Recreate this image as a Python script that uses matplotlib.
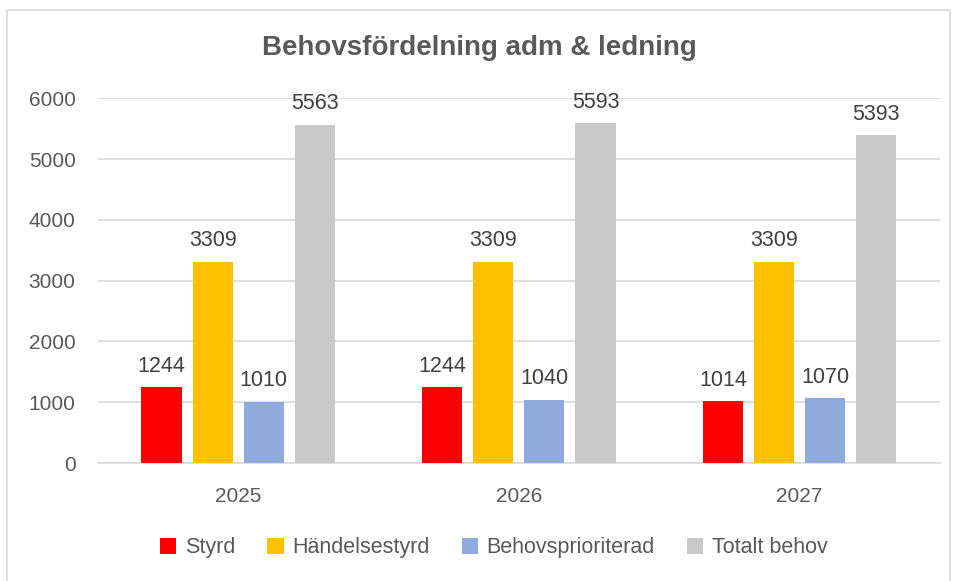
import numpy as np
from matplotlib import pyplot as plt
from matplotlib.patches import Rectangle

# Chart data
years = ['2025', '2026', '2027']
series = ['Styrd', 'Händelsestyrd', 'Behovsprioriterad', 'Totalt behov']
styrd = [1244, 1244, 1014]
handelsestyrd = [3309, 3309, 3309]
behovsprioriterad = [1010, 1040, 1070]
totalt = [5563, 5593, 5393]
colors = ['#FF0000', '#FFC000', '#8FAADC', '#C9C9C9']

txt = '#595959'
plt.rcParams['font.family'] = ['Liberation Sans', 'DejaVu Sans']

fig = plt.figure(figsize=(9.59, 5.81), dpi=100)
fig.patches.append(Rectangle((0.007, -0.01), 0.984, 0.993, transform=fig.transFigure,
                             fill=False, edgecolor='#D9D9D9', linewidth=1.2))
ax = fig.add_axes([0.102, 0.203, 0.878, 0.628])

x = np.arange(len(years))
width = 0.143
step = 0.182
values = [styrd, handelsestyrd, behovsprioriterad, totalt]
for i, (name, vals) in enumerate(zip(series, values)):
    pos = x + (i - 1.5) * step
    bars = ax.bar(pos, vals, width, color=colors[i], label=name, zorder=3)
    for b, v in zip(bars, vals):
        ax.text(b.get_x() + b.get_width() / 2, v + 170, str(v), ha='center', va='bottom',
                fontsize=15.5, color='#404040')

ax.set_xlim(-0.5, 2.5)
ax.set_ylim(0, 6000)
ax.set_yticks(range(0, 6001, 1000))
ax.yaxis.grid(True, color='#D9D9D9', linewidth=1.2, zorder=0)
ax.set_xticks(x)
ax.set_xticklabels(years)
for s in ['top', 'right', 'left']:
    ax.spines[s].set_visible(False)
ax.spines['bottom'].set_color('#D9D9D9')
ax.spines['bottom'].set_linewidth(1.2)
ax.tick_params(axis='both', length=0, labelsize=15, colors=txt)
ax.tick_params(axis='x', pad=17)
ax.tick_params(axis='y', pad=16)

fig.text(0.5, 0.918, 'Behovsfördelning adm & ledning', ha='center', va='center',
         fontsize=20, fontweight='bold', color=txt)
fig.legend(loc='center', bbox_to_anchor=(0.515, 0.057), ncol=4, frameon=False,
           fontsize=15.5, labelcolor=txt, handlelength=0.75, handleheight=0.75,
           handletextpad=0.4, columnspacing=1.5)

plt.savefig('out.png', dpi=100)
